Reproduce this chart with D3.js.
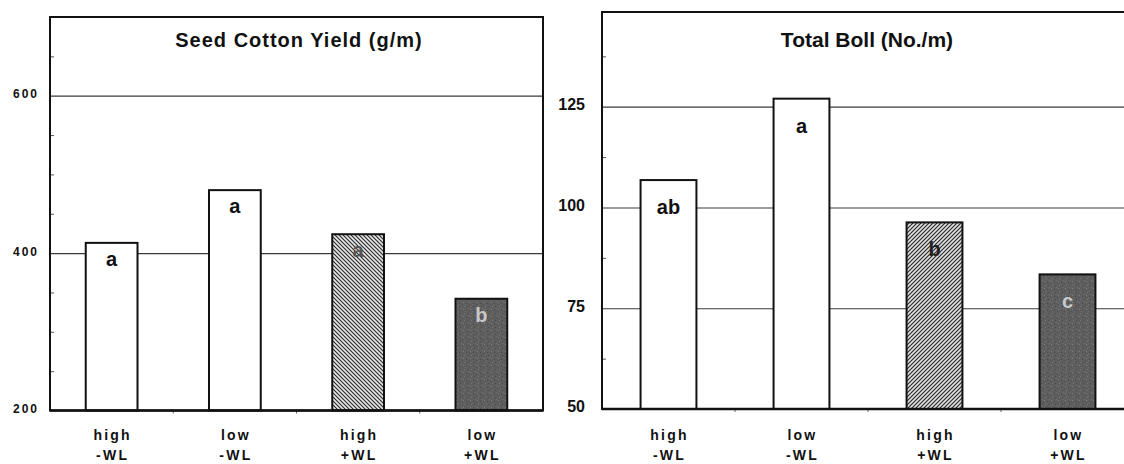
<!DOCTYPE html>
<html>
<head>
<meta charset="utf-8">
<script src="https://cdn.jsdelivr.net/npm/d3@7"></script>
<style>
  body { margin: 0; background: #fff; }
  svg { display: block; font-family: "Liberation Sans", Arial, sans-serif; }
</style>
</head>
<body>
<div id="chart"></div>
<script>
// categories (two line labels)
const levels = ["high", "low", "high", "low"];
const treatments = ["-WL", "-WL", "+WL", "+WL"];
const fills = ["white", "white", "hatch", "speckle"];

// seed cotton yield (g/m)
const yieldValues = [413, 480, 424, 342];
const yieldLetters = ["a", "a", "a", "b"];
const yieldTicks = [200, 400, 600];
const yieldMinor = [250, 300, 350, 450, 500, 550, 650];

// total boll (No./m)
const bollValues = [106.8, 127, 96.3, 83.4];
const bollLetters = ["ab", "a", "b", "c"];
const bollTicks = [50, 75, 100, 125];
const bollMinor = [62.5, 87.5, 112.5, 137.5];

const svg = d3.select("#chart").append("svg")
    .attr("width", 1124)
    .attr("height", 464);

svg.append("rect").attr("width", 1124).attr("height", 464).attr("fill", "#fff");

const defs = svg.append("defs");

// hatch patterns, one per direction
function hatch(id, path, bg) {
    const p = defs.append("pattern")
        .attr("id", id)
        .attr("patternUnits", "userSpaceOnUse")
        .attr("width", 4).attr("height", 4);
    p.append("rect").attr("width", 4).attr("height", 4).attr("fill", bg);
    p.append("path").attr("d", path)
        .attr("stroke", "#2a2a2a").attr("stroke-width", 1.1);
}
hatch("hatchL", "M-1,3 l2,2 M0,0 l4,4 M3,-1 l2,2", "#e4e4e4");
hatch("hatchR", "M-1,1 l2,-2 M0,4 l4,-4 M3,5 l2,-2", "#dcdcdc");

// speckled dark grey
const sp = defs.append("pattern")
    .attr("id", "speckle")
    .attr("patternUnits", "userSpaceOnUse")
    .attr("width", 7).attr("height", 7);
sp.append("rect").attr("width", 7).attr("height", 7).attr("fill", "#5e5e5e");
[[1, 1, "#808080"], [4, 2, "#464646"], [2, 5, "#777"], [5, 5, "#4a4a4a"], [6, 0, "#727272"], [0, 3, "#505050"], [3, 3, "#6c6c6c"]]
    .forEach(([x, y, c]) => sp.append("rect").attr("x", x).attr("y", y)
        .attr("width", 1).attr("height", 1).attr("fill", c));

function drawPanel(cfg) {
    const { left, right, top, bottom } = cfg;
    const g = svg.append("g");

    const x = d3.scaleBand()
        .domain(d3.range(cfg.values.length))
        .range([left, right])
        .paddingInner(0.58)
        .paddingOuter(0.29);

    const y = d3.scaleLinear()
        .domain(cfg.domain)
        .range([bottom, top]);

    // grid lines
    g.append("g")
        .attr("transform", `translate(${left},0)`)
        .call(d3.axisLeft(y).tickValues(cfg.ticks.slice(1)).tickSize(-(right - left)).tickFormat(""))
        .call(a => a.select(".domain").remove())
        .call(a => a.selectAll("line").attr("stroke", "#3a3a3a").attr("stroke-width", 1.2));

    // minor ticks inside the frame
    g.append("g")
        .attr("transform", `translate(${left},0)`)
        .call(d3.axisLeft(y).tickValues(cfg.minor).tickSize(-4).tickFormat(""))
        .call(a => a.select(".domain").remove())
        .call(a => a.selectAll("line").attr("stroke", "#555").attr("stroke-width", 1));

    // tick labels
    g.append("g")
        .attr("transform", `translate(${left},0)`)
        .call(d3.axisLeft(y).tickValues(cfg.ticks).tickSize(0).tickPadding(cfg.labelPad))
        .call(a => a.select(".domain").remove())
        .call(a => a.selectAll("text")
            .attr("fill", "#111")
            .attr("font-family", "'Liberation Sans', Arial, sans-serif")
            .attr("font-weight", "bold")
            .attr("font-size", cfg.tickFont)
            .attr("letter-spacing", cfg.tickSpacing)
            .attr("dy", "0.18em"));

    // bars
    g.selectAll(".bar")
        .data(cfg.values)
        .join("rect")
        .attr("class", "bar")
        .attr("x", (d, i) => x(i))
        .attr("y", d => y(d))
        .attr("width", x.bandwidth())
        .attr("height", d => bottom - y(d))
        .attr("fill", (d, i) => fills[i] === "white" ? "#fff"
            : fills[i] === "hatch" ? `url(#${cfg.hatchId})` : "url(#speckle)")
        .attr("stroke", "#111")
        .attr("stroke-width", 2);

    // significance letters
    const letterColor = { white: "#111", hatch: cfg.hatchLetter, speckle: "#c8c8c8" };
    g.selectAll(".letter")
        .data(cfg.values)
        .join("text")
        .attr("class", "letter")
        .attr("x", (d, i) => x(i) + x.bandwidth() / 2)
        .attr("y", d => y(d) + cfg.letterOffset)
        .attr("text-anchor", "middle")
        .attr("font-size", 20)
        .attr("font-weight", "bold")
        .attr("fill", (d, i) => letterColor[fills[i]])
        .text((d, i) => cfg.letters[i]);

    // small ticks under the baseline at band edges
    g.selectAll(".xtick")
        .data(d3.range(1, cfg.values.length))
        .join("line")
        .attr("x1", i => x(i) - x.step() * x.paddingInner() / 2)
        .attr("x2", i => x(i) - x.step() * x.paddingInner() / 2)
        .attr("y1", bottom).attr("y2", bottom + 3)
        .attr("stroke", "#666");

    // frame
    g.append("rect")
        .attr("x", left).attr("y", top)
        .attr("width", right - left).attr("height", bottom - top)
        .attr("fill", "none")
        .attr("stroke", "#111")
        .attr("stroke-width", 2);
    g.append("line")
        .attr("x1", left).attr("x2", right)
        .attr("y1", bottom).attr("y2", bottom)
        .attr("stroke", "#111").attr("stroke-width", 2.6);

    // title
    g.append("text")
        .attr("x", cfg.titleX).attr("y", 47)
        .attr("text-anchor", "middle")
        .attr("font-size", cfg.titleFont)
        .attr("font-weight", "bold")
        .attr("letter-spacing", cfg.titleSpacing)
        .attr("fill", "#111")
        .text(cfg.title);

    // category labels, two lines
    const cat = g.selectAll(".cat")
        .data(cfg.values)
        .join("text")
        .attr("class", "cat")
        .attr("text-anchor", "middle")
        .attr("font-size", 14)
        .attr("font-weight", "bold")
        .attr("letter-spacing", 2.2)
        .attr("fill", "#111");
    cat.append("tspan")
        .attr("x", (d, i) => x(i) + x.bandwidth() / 2 + 1)
        .attr("y", 440)
        .text((d, i) => levels[i]);
    cat.append("tspan")
        .attr("x", (d, i) => x(i) + x.bandwidth() / 2 + 1)
        .attr("y", 460)
        .text((d, i) => treatments[i]);
}

drawPanel({
    left: 50, right: 543, top: 17, bottom: 410.5,
    domain: [200, 700],
    values: yieldValues, letters: yieldLetters,
    ticks: yieldTicks, minor: yieldMinor,
    hatchId: "hatchL", hatchLetter: "#555",
    tickFont: 12, tickSpacing: 2, labelPad: 11,
    letterOffset: 23,
    title: "Seed Cotton Yield (g/m)", titleX: 299, titleFont: 20, titleSpacing: 1
});

drawPanel({
    left: 602, right: 1134, top: 12, bottom: 409,
    domain: [50, 148.5],
    values: bollValues, letters: bollLetters,
    ticks: bollTicks, minor: bollMinor,
    hatchId: "hatchR", hatchLetter: "#222",
    tickFont: 16, tickSpacing: 0, labelPad: 17,
    letterOffset: 34,
    title: "Total Boll (No./m)", titleX: 867, titleFont: 21, titleSpacing: 0
});
</script>
</body>
</html>
